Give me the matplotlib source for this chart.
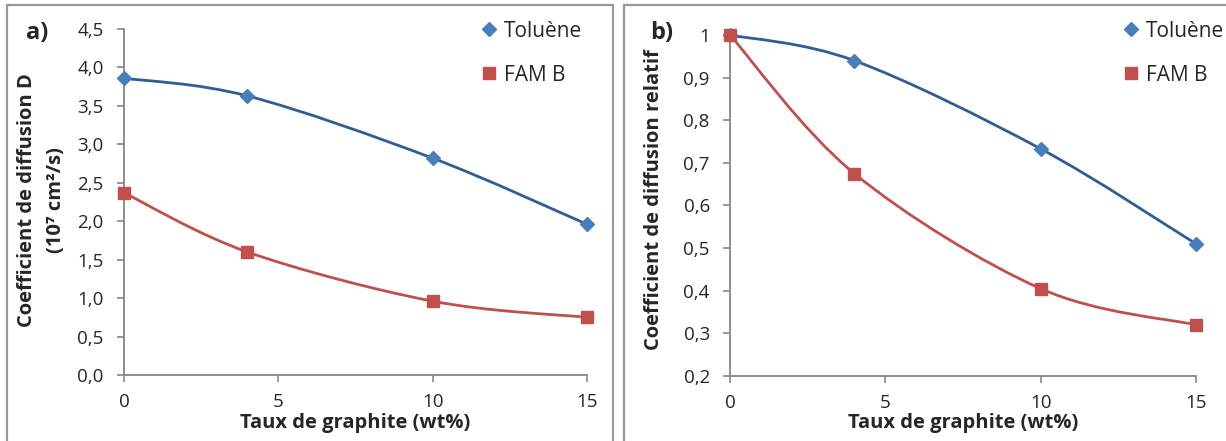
import matplotlib
matplotlib.use("Agg")
import matplotlib.pyplot as plt
from matplotlib.path import Path
from matplotlib.patches import PathPatch, Rectangle
from matplotlib.lines import Line2D

plt.rcParams['font.family'] = ['Open Sans', 'DejaVu Sans']

# data
graphite = [0, 4, 10, 15]
toluene_D = [3.86, 3.63, 2.82, 1.96]
famb_D = [2.37, 1.60, 0.96, 0.75]
toluene_rel = [1.0, 0.94, 0.733, 0.51]
famb_rel = [1.0, 0.675, 0.405, 0.32]

BLUE_LINE = '#2f5d96'
BLUE_MARK = '#4a7ebb'
RED = '#c0504d'
AXIS = '#868686'
TXT = '#262626'


def smooth_path(x, y):
    # Excel-style smoothed line: cubic Bezier through the points
    pts = list(zip(x, y))
    verts = [pts[0]]
    codes = [Path.MOVETO]
    n = len(pts)
    for i in range(n - 1):
        p0 = pts[max(i - 1, 0)]
        p1 = pts[i]
        p2 = pts[i + 1]
        p3 = pts[min(i + 2, n - 1)]
        c1 = (p1[0] + (p2[0] - p0[0]) / 6, p1[1] + (p2[1] - p0[1]) / 6)
        c2 = (p2[0] - (p3[0] - p1[0]) / 6, p2[1] - (p3[1] - p1[1]) / 6)
        verts += [c1, c2, p2]
        codes += [Path.CURVE4] * 3
    return Path(verts, codes)


def draw_series(ax, x, y, line_col, mark_col, marker, ms, label):
    ax.add_patch(PathPatch(smooth_path(x, y), fill=False, edgecolor=line_col,
                           lw=2.0, clip_on=False, zorder=3))
    ax.plot(x, y, ls='none', marker=marker, ms=ms, color=mark_col,
            markeredgecolor=mark_col, clip_on=False, zorder=4, label=label)


def style_axes(ax, ylim, yticks, yfmt):
    ax.set_xlim(0, 15)
    ax.set_ylim(*ylim)
    ax.set_xticks([0, 5, 10, 15])
    ax.set_yticks(yticks)
    ax.set_yticklabels([yfmt(v) for v in yticks])
    for s in ['top', 'right']:
        ax.spines[s].set_visible(False)
    for s in ['left', 'bottom']:
        ax.spines[s].set_color(AXIS)
        ax.spines[s].set_linewidth(1.3)
    ax.tick_params(axis='both', colors=AXIS, length=5, width=1.2,
                   labelsize=13.5, labelcolor=TXT)
    ax.tick_params(axis='x', pad=8)
    ax.tick_params(axis='y', pad=9.5)


fig = plt.figure(figsize=(12.26, 4.41), dpi=100)

# panel frames
fig.add_artist(Rectangle((7 / 1226, -0.05), (613 - 7) / 1226, 1.05 - 5 / 441,
                         transform=fig.transFigure, fill=False,
                         edgecolor='#999999', lw=1.6))
fig.add_artist(Rectangle((624 / 1226, -0.05), (1240 - 624) / 1226, 1.05 - 5 / 441,
                         transform=fig.transFigure, fill=False,
                         edgecolor='#999999', lw=1.6))

ax1 = fig.add_axes([124 / 1226, 1 - 375 / 441, (587 - 124) / 1226, (375 - 29) / 441])
ax2 = fig.add_axes([730 / 1226, 1 - 376 / 441, (1196 - 730) / 1226, (376 - 35) / 441])

draw_series(ax1, graphite, toluene_D, BLUE_LINE, BLUE_MARK, 'D', 7, 'Toluène')
draw_series(ax1, graphite, famb_D, RED, RED, 's', 9, 'FAM B')
style_axes(ax1, (0, 4.5), [0.5 * i for i in range(10)],
           lambda v: f"{v:.1f}".replace('.', ','))

draw_series(ax2, graphite, toluene_rel, BLUE_LINE, BLUE_MARK, 'D', 7, 'Toluène')
draw_series(ax2, graphite, famb_rel, RED, RED, 's', 9, 'FAM B')
style_axes(ax2, (0.2, 1.0), [0.2 + 0.1 * i for i in range(9)],
           lambda v: '1' if abs(v - 1) < 1e-9 else f"{v:.1f}".replace('.', ','))

for ax, cx, lx in [(ax1, 355 / 1226, 477 / 1226), (ax2, 963 / 1226, 1119 / 1226)]:
    fig.text(cx, 1 - 423 / 441, 'Taux de graphite (wt%)', ha='center', va='center',
             fontsize=14.5, fontweight='bold', color=TXT)
    handles = [Line2D([], [], ls='none', marker='D', ms=7, color=BLUE_MARK),
               Line2D([], [], ls='none', marker='s', ms=9, color=RED)]
    fig.legend(handles, ['Toluène', 'FAM B'], loc='upper left',
               bbox_to_anchor=(lx - 0.012, 1 - 2 / 441), frameon=False,
               fontsize=15, handlelength=0.8, handletextpad=0.3,
               labelspacing=1.1, labelcolor=TXT)

fig.text(27 / 1226, 1 - 200 / 441, 'Coefficient de diffusion D', rotation=90,
         ha='center', va='center', fontsize=14.5, fontweight='bold', color=TXT)
fig.text(56 / 1226, 1 - 200 / 441, '(10⁷ cm²/s)', rotation=90,
         ha='center', va='center', fontsize=14.5, fontweight='bold', color=TXT)
fig.text(654 / 1226, 1 - 200 / 441, 'Coefficient de diffusion relatif', rotation=90,
         ha='center', va='center', fontsize=14.5, fontweight='bold', color=TXT)

fig.text(37 / 1226, 1 - 33 / 441, 'a)', ha='center', va='center',
         fontsize=17, fontweight='bold', color=TXT)
fig.text(662 / 1226, 1 - 33 / 441, 'b)', ha='center', va='center',
         fontsize=17, fontweight='bold', color=TXT)

fig.savefig('out.png', dpi=100)
